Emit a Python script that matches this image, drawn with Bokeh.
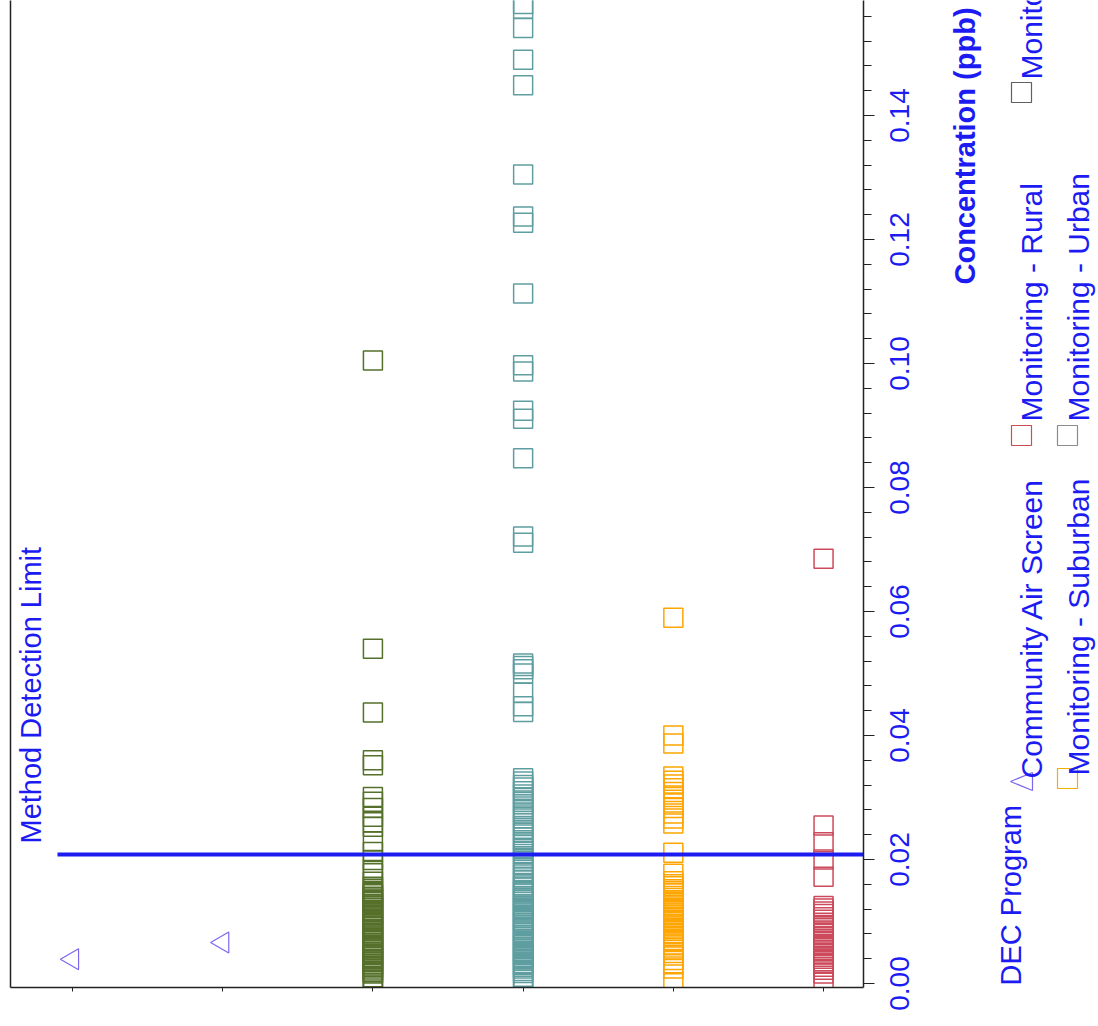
from math import pi
from bokeh.plotting import figure
from bokeh.layouts import row
from bokeh.models import (Range1d, LinearAxis, FixedTicker, CustomJSTickFormatter,
                          NumeralTickFormatter, Label, BoxAnnotation, PolyAnnotation)
from bokeh.embed import file_html
from bokeh.resources import INLINE

# ---------------- data ----------------
SITE_INDEX = [0, 1, 2, 3, 4, 5]

CAS_SITE_A = [0.0039]
CAS_SITE_B = [0.0066]

MON_OTHER = [0.1005, 0.0540, 0.0437, 0.0360, 0.0352, 0.0301, 0.0293, 0.0283, 0.0269,
             0.0260, 0.0253, 0.0229, 0.0212, 0.0199, 0.0183, 0.0178, 0.0164, 0.0156,
             0.0153, 0.0149, 0.0146, 0.0144, 0.0140, 0.0137, 0.0135, 0.0131, 0.0128,
             0.0126, 0.0122, 0.0119, 0.0117, 0.0113, 0.0111, 0.0108, 0.0104, 0.0102,
             0.0099, 0.0096, 0.0093, 0.0091, 0.0087, 0.0085, 0.0082, 0.0079, 0.0076,
             0.0074, 0.0070, 0.0068, 0.0065, 0.0062, 0.0059, 0.0057, 0.0054, 0.0051,
             0.0048, 0.0046, 0.0043, 0.0040, 0.0037, 0.0035, 0.0032, 0.0029, 0.0027,
             0.0024, 0.0021, 0.0018, 0.0016, 0.0010, 0.0006, 0.0001]

MON_URBAN = [0.1580, 0.1572, 0.1541, 0.1490, 0.1449, 0.1305, 0.1237, 0.1227, 0.1113,
             0.0997, 0.0987, 0.0924, 0.0911, 0.0847, 0.0721, 0.0711, 0.0516, 0.0512,
             0.0507, 0.0500, 0.0469, 0.0447, 0.0438,
             0.0331, 0.0326, 0.0320, 0.0316, 0.0310, 0.0305, 0.0299, 0.0293, 0.0289,
             0.0282, 0.0276, 0.0271, 0.0266, 0.0259, 0.0254, 0.0248, 0.0243, 0.0236,
             0.0231, 0.0226, 0.0219, 0.0214, 0.0209, 0.0203, 0.0198, 0.0191, 0.0186,
             0.0180, 0.0176, 0.0171, 0.0166, 0.0162, 0.0158, 0.0155, 0.0151, 0.0148,
             0.0145, 0.0141, 0.0138, 0.0135, 0.0132, 0.0128, 0.0125, 0.0122, 0.0119,
             0.0116, 0.0113, 0.0109, 0.0106, 0.0103, 0.0100, 0.0097, 0.0094, 0.0090,
             0.0087, 0.0084, 0.0081, 0.0078, 0.0075, 0.0071, 0.0068, 0.0065, 0.0062,
             0.0059, 0.0056, 0.0052, 0.0049, 0.0046, 0.0043, 0.0040, 0.0037, 0.0033,
             0.0030, 0.0027, 0.0024, 0.0020, 0.0017, 0.0011, 0.0006, 0.0001]

MON_SUBURBAN = [0.0590, 0.0400, 0.0387, 0.0334, 0.0327, 0.0321, 0.0315, 0.0309, 0.0301,
                0.0292, 0.0283, 0.0274, 0.0266, 0.0258, 0.0211, 0.0177, 0.0165, 0.0160,
                0.0157, 0.0152, 0.0149, 0.0145, 0.0141, 0.0138, 0.0134, 0.0131, 0.0127,
                0.0124, 0.0120, 0.0117, 0.0113, 0.0110, 0.0106, 0.0102, 0.0099, 0.0095,
                0.0092, 0.0088, 0.0085, 0.0081, 0.0077, 0.0074, 0.0070, 0.0067, 0.0063,
                0.0058, 0.0054, 0.0049, 0.0045, 0.0038, 0.0031, 0.0024, 0.0002]

MON_RURAL = [0.0685, 0.0255, 0.0228, 0.0200, 0.0172, 0.0125, 0.0121, 0.0116, 0.0112,
             0.0107, 0.0103, 0.0098, 0.0093, 0.0089, 0.0084, 0.0080, 0.0075, 0.0071,
             0.0068, 0.0064, 0.0061, 0.0057, 0.0054, 0.0050, 0.0047, 0.0043, 0.0040,
             0.0036, 0.0032, 0.0027, 0.0022, 0.0016, 0.0003]

METHOD_DETECTION_LIMIT = 0.0208

TICK_VALUES = [0.00, 0.02, 0.04, 0.06, 0.08, 0.10, 0.12, 0.14]
MINOR_STEP = 0.004

AXIS_TITLE = "Concentration (ppb)"
MDL_LABEL = "Method Detection Limit"
LEGEND_TITLE = "DEC Program"
LEGEND_LABELS = ["Community Air Screen", "Monitoring - Rural", "Monitoring - Industrial",
                 "Monitoring - Suburban", "Monitoring - Urban"]

# ---------------- styles ----------------
BLUE = "#1c1cf2"
PURPLE = "#7b68ee"
OLIVE = "#55702a"
TEAL = "#5f9ea0"
ORANGE = "#ffa500"
RED = "#cd4a5c"
FONT = "Liberation Sans"
AXIS_COLOR = "#222222"

PAGE_W, PAGE_H = 1098, 1026
FRAME_RIGHT = 863
MAIN_W = 876
FRAME_BOTTOM = 987
SIDE_FRAME_LEFT = 921

y_range = Range1d(-0.000645, 0.15855)

p = figure(width=MAIN_W, height=PAGE_H, output_backend="svg", toolbar_location=None,
           x_range=Range1d(-0.4128, 5.266), y_range=y_range,
           y_axis_location="right", min_border_left=10,
           min_border_right=MAIN_W - FRAME_RIGHT,
           min_border_top=0, min_border_bottom=PAGE_H - FRAME_BOTTOM)
p.outline_line_color = None
p.xgrid.visible = False
p.ygrid.visible = False

# right (value) axis: tick marks only; its labels are drawn by the side figure
minor_ticks = [round(i * MINOR_STEP, 3) for i in range(int(0.158 / MINOR_STEP) + 1)]
ya = p.yaxis[0]
ya.ticker = FixedTicker(ticks=TICK_VALUES, minor_ticks=minor_ticks)
ya.formatter = CustomJSTickFormatter(code="return '';")
ya.major_label_text_font_size = "1px"
ya.major_label_standoff = 0
ya.major_tick_out = 11
ya.major_tick_in = 0
ya.minor_tick_out = 8
ya.minor_tick_in = 0
ya.axis_line_width = 1.5
ya.axis_line_color = AXIS_COLOR
ya.major_tick_line_color = AXIS_COLOR
ya.minor_tick_line_color = AXIS_COLOR

# bottom (site) axis
xa = p.xaxis[0]
xa.ticker = FixedTicker(ticks=SITE_INDEX)
xa.major_label_overrides = {i: "" for i in SITE_INDEX}
xa.major_tick_out = 4
xa.major_tick_in = 0
xa.minor_tick_line_color = None
xa.axis_line_width = 1.5
xa.axis_line_color = AXIS_COLOR
xa.major_tick_line_color = AXIS_COLOR

# left frame line
la = LinearAxis(ticker=FixedTicker(ticks=[]), major_tick_out=0, major_tick_in=0,
                minor_tick_out=0, minor_tick_in=0, major_label_standoff=0,
                axis_line_width=1.5, axis_line_color=AXIS_COLOR)
p.add_layout(la, "left")

# data marks
for idx, vals in ((SITE_INDEX[0], CAS_SITE_A), (SITE_INDEX[1], CAS_SITE_B)):
    p.scatter(x=[idx] * len(vals), y=vals, marker="triangle", angle=pi / 2, size=21,
              fill_color=None, line_color=PURPLE, line_width=1.2)

for idx, vals, col in ((SITE_INDEX[2], MON_OTHER, OLIVE),
                       (SITE_INDEX[3], MON_URBAN, TEAL),
                       (SITE_INDEX[4], MON_SUBURBAN, ORANGE),
                       (SITE_INDEX[5], MON_RURAL, RED)):
    p.scatter(x=[idx] * len(vals), y=vals, marker="square", size=19,
              fill_color=None, line_color=col, line_width=1.5)

# method detection limit
p.segment(x0=[-0.1], y0=[METHOD_DETECTION_LIMIT], x1=[p.x_range.end],
          y1=[METHOD_DETECTION_LIMIT], line_color=BLUE, line_width=4)


def FY(py):
    """page pixel row -> concentration value (same mapping as the frame)"""
    return (983 - py) / 6200


p.add_layout(Label(x=(30 - 72) / 150.2, y=FY(843), text=MDL_LABEL,
                   angle=pi / 2, text_align="left", text_baseline="middle",
                   text_font=FONT, text_font_size="29px", text_color=BLUE))

# ---------------- side figure: tick labels, axis title, legend ----------------
q = figure(width=PAGE_W - MAIN_W, height=PAGE_H, output_backend="svg",
           toolbar_location=None, x_range=Range1d(SIDE_FRAME_LEFT, PAGE_W),
           y_range=y_range, x_axis_location=None, y_axis_location="left",
           min_border_left=SIDE_FRAME_LEFT - MAIN_W, min_border_right=0,
           min_border_top=0, min_border_bottom=PAGE_H - FRAME_BOTTOM)
q.outline_line_color = None
q.xgrid.visible = False
q.ygrid.visible = False

qa = q.yaxis[0]
qa.ticker = FixedTicker(ticks=TICK_VALUES)
qa.formatter = NumeralTickFormatter(format="0.00")
qa.major_label_orientation = "vertical"
qa.major_label_text_font = FONT
qa.major_label_text_font_size = "28px"
qa.major_label_text_color = BLUE
qa.major_label_standoff = 12
qa.major_tick_out = 0
qa.major_tick_in = 0
qa.major_tick_line_color = None
qa.minor_tick_line_color = None
qa.axis_line_color = None


def vlabel(text, px, py, size, bold=False):
    q.add_layout(Label(x=px, y=FY(py), text=text, angle=pi / 2,
                       text_align="left", text_baseline="middle",
                       text_font=FONT, text_font_size=size,
                       text_font_style="bold" if bold else "normal",
                       text_color=BLUE))


vlabel(AXIS_TITLE, 964, 284, "29px", bold=True)
vlabel(LEGEND_TITLE, 1010, 985, "29px")

# legend entries: (label, marker-center-x, marker-center-y, text-center-x, text-start-y, color)
entries = [
    (LEGEND_LABELS[0], 1021, 781, 1031, 778, PURPLE),
    (LEGEND_LABELS[1], 1021, 435, 1031, 421, "#c85050"),
    (LEGEND_LABELS[2], 1021, 92, 1031, 79, "#606060"),
    (LEGEND_LABELS[3], 1067, 778, 1078, 775, "#f0b000"),
    (LEGEND_LABELS[4], 1067, 435, 1078, 421, "#8c8c8c"),
]
for i, (lab, mx, my, tx, ty, col) in enumerate(entries):
    if i == 0:
        q.add_layout(PolyAnnotation(xs=[mx - 11, mx + 11, mx + 11],
                                    ys=[FY(my), FY(my - 9), FY(my + 9)],
                                    fill_alpha=0, line_color=col, line_alpha=1,
                                    line_width=1.2))
    else:
        q.add_layout(BoxAnnotation(left=mx - 10, right=mx + 10,
                                   top=FY(my - 10), bottom=FY(my + 10),
                                   fill_alpha=0, line_color=col, line_alpha=1,
                                   line_width=1.2))
    vlabel(lab, tx, ty, "30px")

layout = row(p, q, spacing=0)
open("out.html", "w").write(file_html(layout, INLINE))
